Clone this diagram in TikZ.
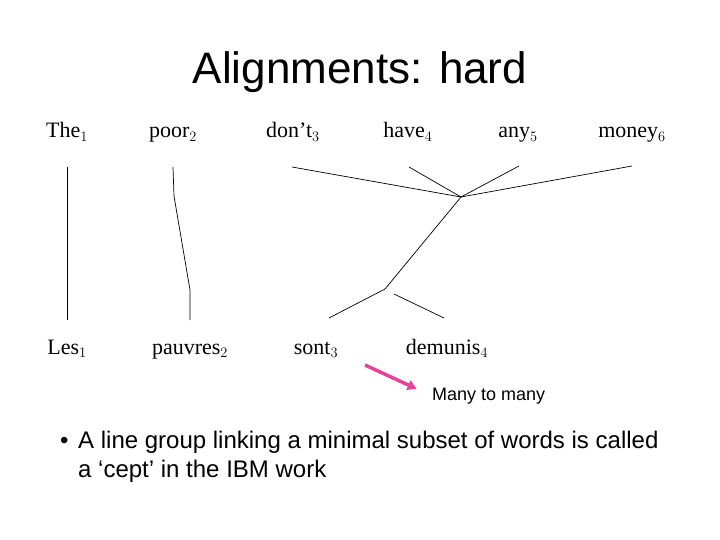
\documentclass[tikz,border=0pt]{standalone}
\usepackage{fontspec}
\setmainfont{Liberation Serif}
\newfontfamily\slidefont{Liberation Sans}
\usetikzlibrary{arrows.meta}
\definecolor{arrowpink}{HTML}{E8439B}

\begin{document}
\begin{tikzpicture}[x=1pt,y=-1pt,
    word/.style={anchor=base,inner sep=0pt,font=\fontsize{22}{24}\selectfont},
    slidetext/.style={anchor=base west,inner sep=0pt,font=\slidefont\fontsize{24}{29}\selectfont},
    link/.style={line width=0.7pt,line join=round}]
    \useasboundingbox[fill=white] (0,0) rectangle (720,540);

    \node[anchor=base,inner sep=0pt,font=\slidefont\fontsize{44}{50}\selectfont] (title) at (360,84) {Alignments: hard};

    % english words
    \node[word] (en1) at (67,138) {The$_1$};
    \node[word] (en2) at (173,138) {poor$_2$};
    \node[word] (en3) at (293,138) {don’t$_3$};
    \node[word] (en4) at (408,138) {have$_4$};
    \node[word] (en5) at (518,138) {any$_5$};
    \node[word] (en6) at (632,138) {money$_6$};

    % french words
    \node[word] (fr1) at (67,354) {Les$_1$};
    \node[word] (fr2) at (190,354) {pauvres$_2$};
    \node[word] (fr3) at (316,354) {sont$_3$};
    \node[word] (fr4) at (447,354) {demunis$_4$};

    % line ends and bends
    \coordinate (en1-end) at (67,167);
    \coordinate (fr1-end) at (67,320);
    \coordinate (en2-end) at (173,167);
    \coordinate (bend1) at (174,196);
    \coordinate (bend2) at (190,290);
    \coordinate (fr2-end) at (190,320);
    \coordinate (en3-end) at (292,167);
    \coordinate (en4-end) at (409,167);
    \coordinate (en5-end) at (519,166);
    \coordinate (en6-end) at (632,166);
    \coordinate (hub) at (461,197);
    \coordinate (knot) at (385,289);
    \coordinate (fr3-end) at (329,318);
    \coordinate (fr4-start) at (394,294);
    \coordinate (fr4-end) at (444,318);

    \draw[link] (en1-end) -- (fr1-end);
    \draw[link] (en2-end) -- (bend1) -- (bend2) -- (fr2-end);
    \draw[link] (en3-end) -- (hub) -- (en6-end);
    \draw[link] (en4-end) -- (hub) -- (en5-end);
    \draw[link] (hub) -- (knot) -- (fr3-end);
    \draw[link] (fr4-start) -- (fr4-end);

    \node[anchor=west,inner sep=0pt,font=\slidefont\fontsize{18}{22}\selectfont] (many) at (432,396) {Many to many};
    \coordinate (arrow-tail) at (365,365);
    \draw[arrowpink,line width=3.5pt,-{Triangle[length=9pt,width=10pt]},shorten >=17pt] (arrow-tail) -- (many.west);

    % bullet
    \node[slidetext] (dot) at (60,448) {•};
    \node[slidetext] (line1) at (78,448) {A line group linking a minimal subset of words is called};
    \node[slidetext] (line2) at (78,477) {a ‘cept’ in the IBM work};
\end{tikzpicture}
\end{document}
